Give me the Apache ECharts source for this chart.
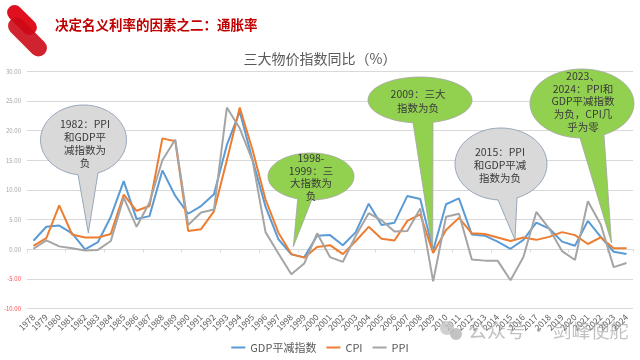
<!DOCTYPE html>
<html>
<head>
<meta charset="utf-8">
<script src="https://cdn.jsdelivr.net/npm/echarts@6/dist/echarts.min.js"></script>
<style>html,body{margin:0;padding:0;background:#fff;}#c{width:640px;height:360px;}</style>
</head>
<body>
<div id="c"></div>
<script>
const years = ['1978','1979','1980','1981','1982','1983','1984','1985','1986','1987','1988','1989',
  '1990','1991','1992','1993','1994','1995','1996','1997','1998','1999','2000','2001',
  '2002','2003','2004','2005','2006','2007','2008','2009','2010','2011','2012','2013',
  '2014','2015','2016','2017','2018','2019','2020','2021','2022','2023','2024'];
const gdpDeflator = [1.45,3.8,4.0,2.7,0.0,1.2,5.5,11.5,5.1,5.6,13.3,9.0,
  6.0,7.3,9.3,17.6,23.2,15.0,7.2,1.7,-0.85,-1.35,2.3,2.4,
  0.7,2.9,7.7,4.1,4.5,9.0,8.5,-0.2,7.6,8.6,2.5,2.3,
  1.3,0.1,1.6,4.5,3.5,1.3,0.6,4.8,2.1,-0.4,-0.8];
const cpi = [0.6,1.9,7.4,2.5,2.0,2.0,2.6,9.2,6.5,7.3,18.7,18.2,
  3.1,3.4,6.4,15.0,23.9,16.7,8.4,2.8,-0.8,-1.4,0.4,0.7,
  -0.8,1.4,3.8,1.8,1.5,4.8,5.9,-0.6,3.25,5.3,2.7,2.6,
  2.0,1.4,2.0,1.6,2.1,2.9,2.4,0.9,2.0,0.2,0.2];
const ppi = [0.1,1.5,0.5,0.2,-0.2,-0.1,1.4,8.7,3.8,7.9,15.0,18.5,
  4.1,6.2,6.7,23.9,20.4,14.9,2.9,-0.7,-4.2,-2.4,2.7,-1.3,
  -2.1,2.3,6.1,4.9,3.0,3.1,6.9,-5.4,5.5,6.0,-1.7,-1.9,
  -1.9,-5.2,-1.3,6.3,3.5,-0.3,-1.8,8.1,4.2,-3.0,-2.3];
const seriesNames = ['GDP平减指数','CPI','PPI'];
const headerText = '决定名义利率的因素之二：通胀率';
const chartTitle = '三大物价指数同比（%）';
const notes = [
  '1982：PPI\n和GDP平\n减指数为\n负',
  '1998-\n1999：三\n大指数为\n负',
  '2009：三大\n指数为负',
  '2015：PPI\n和GDP平减\n指数为负',
  '2023、\n2024：PPI和\nGDP平减指数\n为负，CPI几\n乎为零'
];
const yTicks = {min:-10, max:30, step:5};

const FONT = '"Noto Sans CJK SC","Noto Sans",sans-serif';

function bubble(cx, cy, rx, ry, tx1, tx2, tipX, tipY, fill, stroke, text, tcx, tcy, lh) {
  const a1 = Math.acos(Math.max(-1, Math.min(1, (tx1 - cx) / rx)));
  const a2 = Math.acos(Math.max(-1, Math.min(1, (tx2 - cx) / rx)));
  const pts = [];
  const end = a2 + Math.PI * 2;
  const n = 80;
  for (let i = 0; i <= n; i++) {
    const t = a1 + (end - a1) * i / n;
    pts.push([cx + rx * Math.cos(t), cy + ry * Math.sin(t)]);
  }
  pts.push([tipX, tipY]);
  return [
    {type:'polygon', z:100, shape:{points:pts}, style:{fill:fill, stroke:stroke, lineWidth:0.8}},
    {type:'text', z:101, x:tcx, y:tcy, style:{text:text, fill:'#3a3a3a', font:'10.5px ' + FONT, textAlign:'center', textVerticalAlign:'middle', lineHeight:lh}}
  ];
}

const GRAYF = '#d9d9d9', GRAYS = '#8497b0', GREENF = '#92d050', GREENS = '#a5a5a5';
const graphics = [].concat(
  [
    {type:'rect', z:100, x:22, y:20, rotation:-Math.PI/4,
      shape:{x:-18, y:-7.5, width:36, height:15, r:7.5}, style:{fill:'#e0101e'}},
    {type:'rect', z:100, x:27.5, y:37, rotation:-Math.PI/4,
      shape:{x:-24, y:-8.5, width:48, height:17, r:8.5}, style:{fill:'#cc0a18', opacity:0.9}},
    {type:'text', z:100, x:55, y:25, style:{text:headerText, fill:'#c00000', font:'bold 13.5px ' + FONT, textVerticalAlign:'middle'}},
    {type:'circle', z:1, shape:{cx:447, cy:328, r:7}, style:{fill:'#c4c4c4', opacity:0.8}},
    {type:'circle', z:1, shape:{cx:456, cy:334, r:6}, style:{fill:'#b4b4b4', opacity:0.8}},
    {type:'text', z:1, x:468, y:331, style:{text:'公众号 · 剑峰使舵', fill:'rgba(160,160,160,0.65)', font:'19px ' + FONT, textVerticalAlign:'middle'}}
  ],
  bubble(83.5, 140, 43, 35, 78, 98, 88.3, 233, GRAYF, GRAYS, notes[0], 85, 144, 13),
  bubble(311, 176.5, 43, 23.5, 297.7, 311.7, 293.3, 246.7, GREENF, GREENS, notes[1], 311, 177, 12.7),
  bubble(420, 100, 52, 23, 413, 433, 432.7, 250, GREENF, GREENS, notes[2], 418, 101, 14),
  bubble(501, 164, 46, 36, 498, 517, 515, 240, GRAYF, GRAYS, notes[3], 500, 165, 12.8),
  bubble(582, 103.5, 52, 34.5, 580, 604, 611.5, 243, GREENF, GREENS, notes[4], 583, 101.5, 12.6)
);

const chart = echarts.init(document.getElementById('c'), null, {renderer:'canvas'});
chart.setOption({
  animation: false,
  textStyle: {fontFamily: FONT},
  color: ['#5b9bd5','#ed7d31','#a5a5a5'],
  title: {text: chartTitle, left: 'center', top: 47, textStyle:{fontSize:14, color:'#595959', fontWeight:'normal', fontFamily: FONT}},
  legend: {bottom: 2, left: 'center', icon: 'rect', itemWidth: 14, itemHeight: 2, itemGap: 10,
    textStyle:{fontSize:11, color:'#595959'}, data: seriesNames},
  grid: {left: 27, right: 7, top: 71.3, bottom: 51.3, containLabel: false},
  xAxis: [
    {type:'category', data: years, boundaryGap: true,
      axisLine:{show:true, onZero:true, lineStyle:{color:'#d9d9d9'}},
      axisTick:{show:true, length:3, lineStyle:{color:'#d9d9d9'}},
      axisLabel:{show:false}, splitLine:{show:false}},
    {type:'category', data: years, boundaryGap: true, position:'bottom',
      axisLine:{show:false, onZero:false}, axisTick:{show:false}, splitLine:{show:false},
      axisLabel:{interval:0, rotate:45, fontSize:8.5, color:'#595959', margin:7}}
  ],
  yAxis: {type:'value', min: yTicks.min, max: yTicks.max, interval: yTicks.step,
    axisLine:{show:false}, axisTick:{show:false},
    splitLine:{lineStyle:{color:'#d9d9d9', width:1}},
    axisLabel:{margin:6, fontSize:6,
      formatter: v => (v < 0 ? '{n|' : '{p|') + v.toFixed(2) + '}',
      rich:{n:{color:'#ff5050', fontSize:6}, p:{color:'#a6a6a6', fontSize:6}}}},
  series: [
    {name: seriesNames[0], type:'line', data: gdpDeflator, symbol:'none', xAxisIndex:0, lineStyle:{width:2}},
    {name: seriesNames[1], type:'line', data: cpi, symbol:'none', xAxisIndex:0, lineStyle:{width:2}},
    {name: seriesNames[2], type:'line', data: ppi, symbol:'none', xAxisIndex:0, lineStyle:{width:2}}
  ],
  graphic: graphics
});
</script>
</body>
</html>
